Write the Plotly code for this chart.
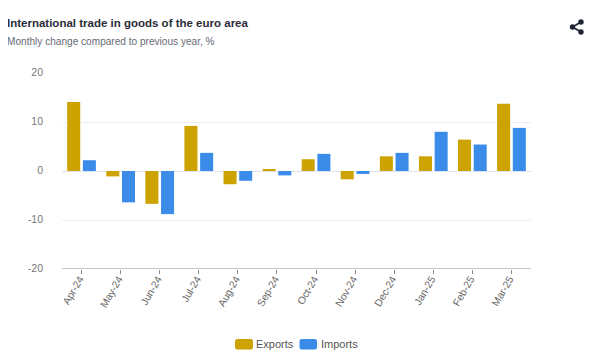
import plotly.graph_objects as go

months = ["Apr-24","May-24","Jun-24","Jul-24","Aug-24","Sep-24","Oct-24","Nov-24","Dec-24","Jan-25","Feb-25","Mar-25"]
exports = [14.1,-1.1,-6.7,9.2,-2.7,0.3,2.4,-1.7,3.0,3.0,6.4,13.7]
imports = [2.2,-6.4,-8.8,3.7,-2.0,-0.9,3.5,-0.6,3.7,8.0,5.4,8.8]
y_ticks = [-20,-10,0,10,20]
y_tick_labels = ["-20","-10","0","10","20"]
title = "International trade in goods of the euro area"
subtitle = "Monthly change compared to previous year, %"
FONT = "Liberation Sans, Arial, sans-serif"
EXP, IMP = "#CCA300", "#3A8CE8"
L, R, T, B = 62, 531, 73, 269

def px(x): return (x - L) / (R - L)
def py(y): return (B - y) / (B - T)

fig = go.Figure()
fig.add_bar(name="Exports", x=months, y=exports, marker_color=EXP, marker_line_width=0, showlegend=False)
fig.add_bar(name="Imports", x=months, y=imports, marker_color=IMP, marker_line_width=0, showlegend=False)

shapes = []
for a, b in [((572.5,27),(581,22)), ((572.5,27),(581,32))]:
    shapes.append(dict(type="line", xref="paper", yref="paper", x0=px(a[0]), y0=py(a[1]), x1=px(b[0]), y1=py(b[1]),
                       line=dict(color="#1f2433", width=1.5)))
for cx, cy in [(572.5,27),(581,22),(581,32)]:
    r = 2.7
    shapes.append(dict(type="circle", xref="paper", yref="paper", x0=px(cx-r), x1=px(cx+r), y0=py(cy-r), y1=py(cy+r),
                       fillcolor="#1f2433", line_width=0))
def rrect(x0, y0, x1, y1, r=2.5):
    return (f"M{px(x0+r)},{py(y0)} L{px(x1-r)},{py(y0)} Q{px(x1)},{py(y0)} {px(x1)},{py(y0+r)} "
            f"L{px(x1)},{py(y1-r)} Q{px(x1)},{py(y1)} {px(x1-r)},{py(y1)} L{px(x0+r)},{py(y1)} "
            f"Q{px(x0)},{py(y1)} {px(x0)},{py(y1-r)} L{px(x0)},{py(y0+r)} Q{px(x0)},{py(y0)} {px(x0+r)},{py(y0)} Z")
shapes.append(dict(type="path", xref="paper", yref="paper", path=rrect(235,339,253,349.5), fillcolor=EXP, line_width=0))
shapes.append(dict(type="path", xref="paper", yref="paper", path=rrect(299.5,339,317,349.5), fillcolor=IMP, line_width=0))

def label(text, x, y, size, color, bold=False):
    return dict(text=f"<b>{text}</b>" if bold else text, xref="paper", yref="paper", x=px(x), y=py(y),
                xanchor="left", yanchor="middle", showarrow=False, xshift=-2,
                font=dict(family=FONT, size=size, color=color))

fig.update_layout(
    width=592, height=352, autosize=False,
    margin=dict(l=L-8, r=592-(R-8), t=T-8, b=352-(B-8), pad=0),
    paper_bgcolor="white", plot_bgcolor="white",
    barmode="group", bargap=0.197, bargroupgap=0.17,
    shapes=shapes,
    annotations=[
        label(title, 7, 23, 11.5, "#2a2d3a", True),
        label(subtitle, 7, 41.5, 10.1, "#666a73"),
        label("Exports", 256, 343.5, 11, "#555555"),
        label("Imports", 320.5, 343.5, 11, "#555555"),
    ],
    xaxis=dict(type="category", tickangle=-60, ticks="outside", ticklen=4, tickcolor="#8a8a8a", tickwidth=1,
               showline=False, showgrid=False, zeroline=False,
               tickfont=dict(family=FONT, size=10.3, color="#666666"), ticklabelstandoff=-5, ticklabelshift=-2),
    yaxis=dict(range=[-20,20], tickvals=y_ticks, ticktext=y_tick_labels, ticks="", showgrid=True, gridcolor="#eeeef5", gridwidth=1,
               zeroline=True, zerolinecolor="#dfe5f0", zerolinewidth=1, showline=False,
               tickfont=dict(family=FONT, size=10.5, color="#777777"), ticklabelstandoff=18, ticklabelshift=-1),
)
fig.add_shape(type="line", xref="x domain", yref="y", x0=0, x1=1, y0=-20, y1=-20, line=dict(color="#8a8a8a", width=1))
fig.write_html("out.html")
